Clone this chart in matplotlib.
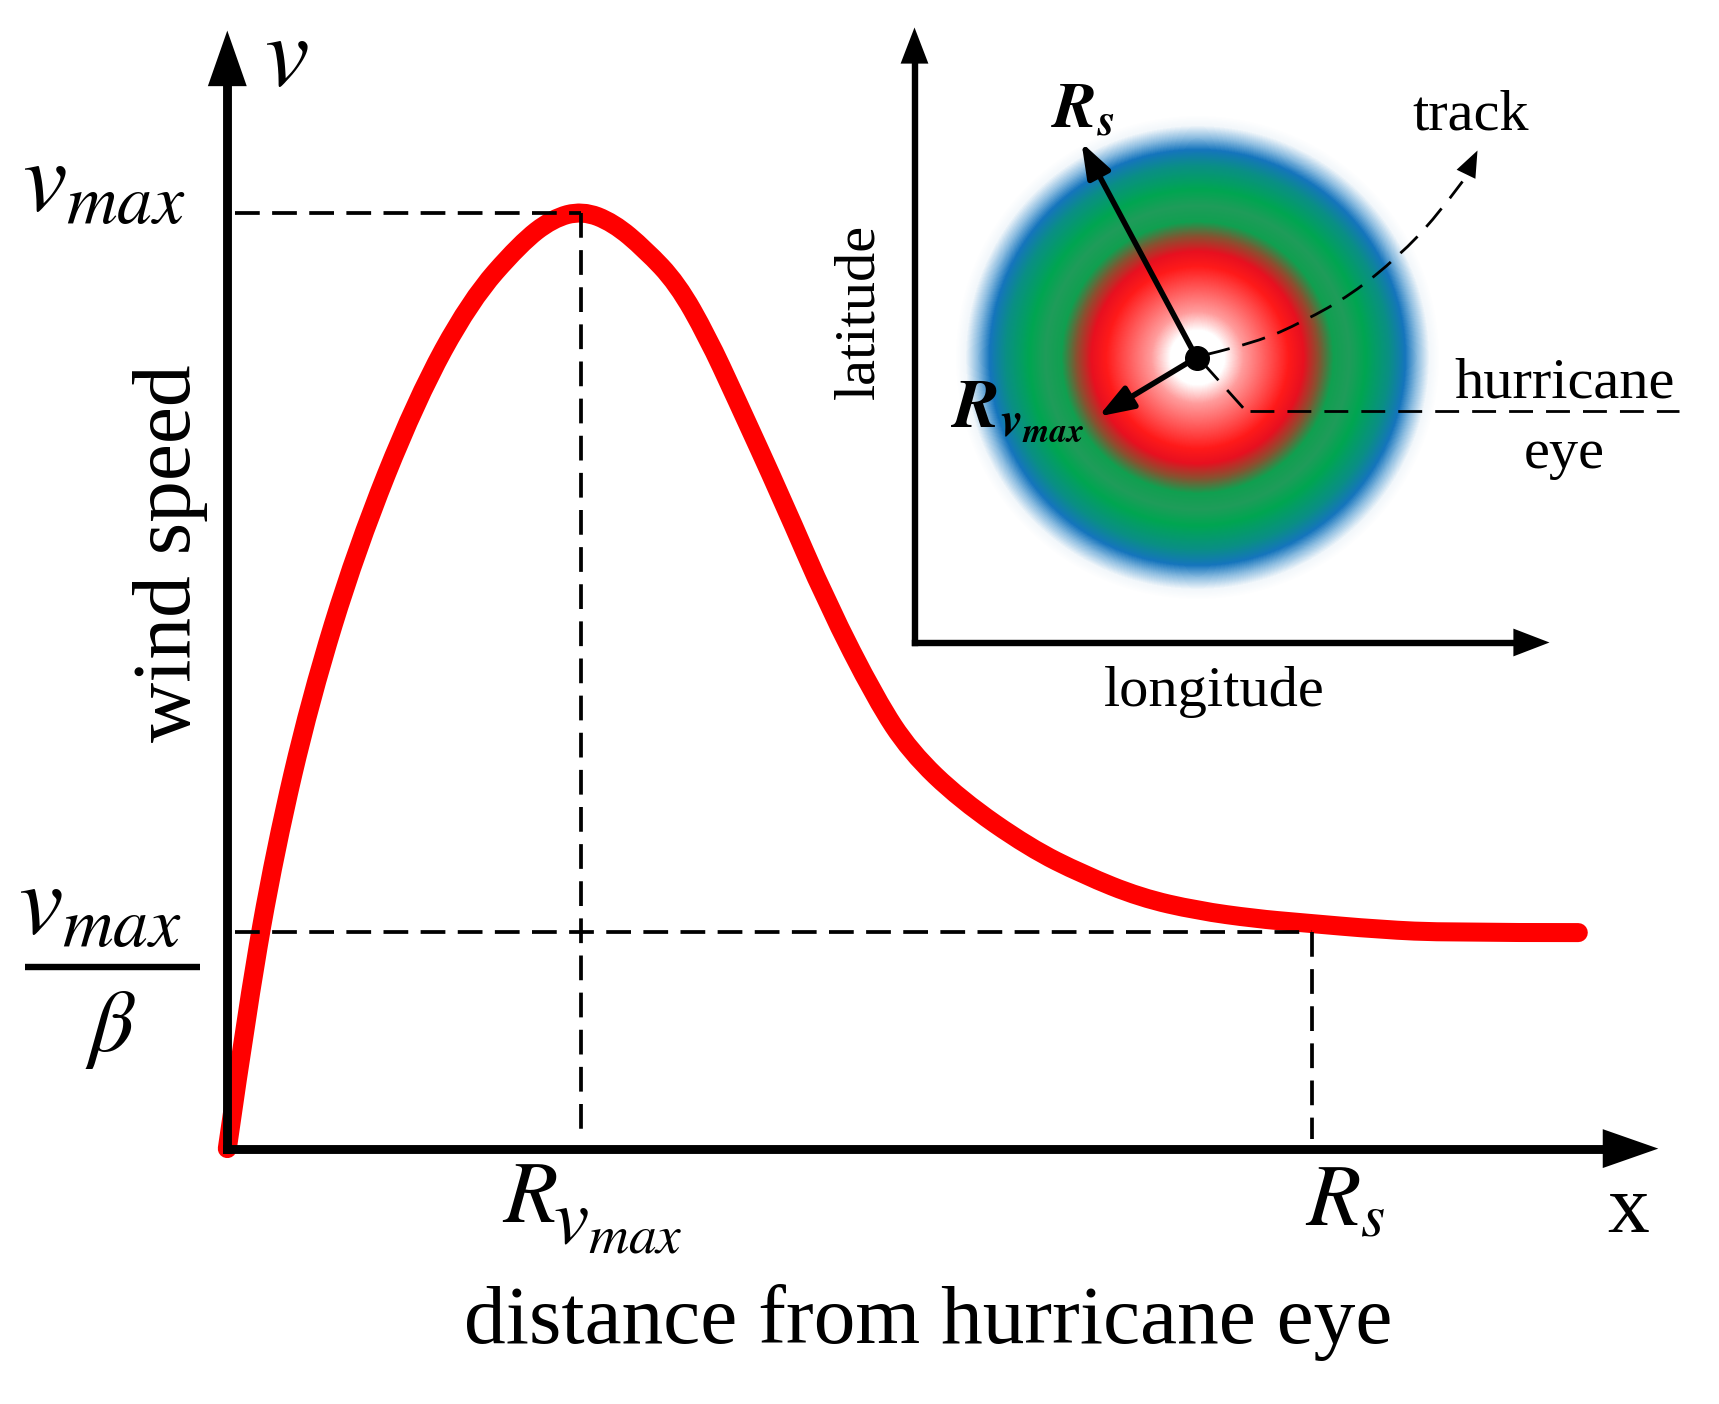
import numpy as np
import matplotlib as mpl
mpl.use("Agg")
import matplotlib.pyplot as plt
from matplotlib.colors import LinearSegmentedColormap
from matplotlib.patches import PathPatch
from matplotlib.path import Path

plt.rcParams["font.family"] = ["Liberation Serif", "DejaVu Serif"]
plt.rcParams["mathtext.fontset"] = "stix"

# wind profile
dist = [0, 21, 48, 83, 129, 189, 243, 293, 325, 355, 386, 418, 450, 480, 508, 555, 600,
        649, 683, 733, 802, 856, 913, 970, 1028, 1073, 1154, 1220, 1351]
speed = [0, 147, 299, 449, 599, 749, 848, 905, 930, 938, 926, 899, 865, 812, 752, 649,
         545, 449, 397, 349, 301, 274, 251, 238, 230, 226, 219, 216, 216]

r_vmax = 353.5
r_s = 1085
v_max = 935.7
v_s = 216.4

# hurricane sketch, pixels from the inset origin
eye = (282, 285)
rs_tip = (167, 500)
rv_tip = (184, 226)
track_x = [292, 342, 389, 437, 484, 522, 548, 563]
track_y = [288, 300, 321, 348, 386, 426, 461, 492]
leader_x = [288, 331]
leader_y = [280, 232]

ring_radius = [0, 27, 46, 91, 106, 121, 136, 152, 168, 192, 208, 220, 232, 242]
ring_color = ["#ffffff", "#ffffff", "#ff9c9c", "#ff1a1a", "#e81020", "#8a5030", "#10a050",
              "#1f9c5a", "#00a651", "#0a8f85", "#1575bd", "#8bbce0", "#f2f7fb", "#ffffff"]

W, H = 1719, 1404

fig = plt.figure(figsize=(W / 100, H / 100), dpi=100)


def place(x0, y0, w, h):
    return fig.add_axes([x0 / W, 1 - y0 / H, w / W, h / H])


def axis_style(ax, x_tip, y_tip, head, lw):
    ax.set_xlim(0, x_tip)
    ax.set_ylim(0, y_tip)
    ax.set_xticks([])
    ax.set_yticks([])
    ax.patch.set_alpha(0)
    ax.spines["top"].set_visible(False)
    ax.spines["right"].set_visible(False)
    ax.spines["left"].set_linewidth(lw)
    ax.spines["bottom"].set_linewidth(lw)
    ax.spines["left"].set_bounds(0, y_tip - head[0] / 0.8)
    ax.spines["bottom"].set_bounds(0, x_tip - head[0] / 0.8)
    style = "-|>,head_length=%g,head_width=%g" % (head[0], head[1])
    for tip in [(x_tip, 0), (0, y_tip)]:
        ax.annotate("", xy=tip, xytext=(0, 0), zorder=5, annotation_clip=False,
                    arrowprops=dict(arrowstyle=style, color="black", lw=0,
                                    shrinkA=0, shrinkB=0, mutation_scale=1))


def smooth_path(xs, ys):
    # read points become the control points of quadratic pieces
    pts = list(zip(xs, ys))
    verts = [pts[0]]
    codes = [Path.MOVETO]
    for i in range(1, len(pts) - 1):
        end = pts[i + 1] if i == len(pts) - 2 else ((pts[i][0] + pts[i + 1][0]) / 2,
                                                    (pts[i][1] + pts[i + 1][1]) / 2)
        verts += [pts[i], end]
        codes += [Path.CURVE3, Path.CURVE3]
    return Path(verts, codes)


# main chart
ax = place(227.3, 1148.6, 1431, 1118)
axis_style(ax, 1431, 1118, (40, 14), 6.4)
ax.add_patch(PathPatch(smooth_path(dist, speed), fc="none", ec="#ff0000", lw=13.7,
                       capstyle="round", joinstyle="round", clip_on=False, zorder=2))

dash = dict(color="black", lw=2.7, dashes=(6.6, 3.3), dash_capstyle="butt", zorder=3)
ax.plot([8, r_vmax], [v_max, v_max], **dash)
ax.plot([r_vmax, r_vmax], [v_max, 10], **dash)
ax.plot([8, r_s], [v_s, v_s], **dash)
ax.plot([r_s, r_s], [v_s, 10], **dash)
ax.plot([-202, -27], [182, 182], color="black", lw=4.6, clip_on=False, solid_capstyle="butt")

ctr = dict(ha="center", va="center", color="black", clip_on=False)
ax.text(59, 1088, r"$v$", fontsize=72, **ctr)
ax.text(-124, 962, r"$v_{max}$", fontsize=72, **ctr)
ax.text(-128, 239, r"$v_{max}$", fontsize=72, **ctr)
ax.text(-117, 119, r"$\beta$", fontsize=64, **ctr)
ax.text(302, -52, r"$R$", fontsize=64, **ctr)
ax.text(391, -76, r"$v_{max}$", fontsize=57, **ctr)
ax.text(1118, -55, r"$R_s$", fontsize=64, **ctr)
ax.text(1401, -64, "x", fontsize=60, **ctr)
ax.text(701, -174, "distance from hurricane eye", fontsize=60, **ctr)
ax.text(-57, 595, "wind speed", fontsize=60, rotation=90, **ctr)

# inset sketch
ins = place(914.5, 642.5, 635, 615)
axis_style(ins, 635, 615, (26, 10), 4.6)

grid = np.arange(-247, 248, 1.0)
gx, gy = np.meshgrid(grid, grid)
radius = np.hypot(gx, gy)
stops = [r / 247 for r in ring_radius] + [1.0]
colors = ring_color + ["#ffffff"]
cmap = LinearSegmentedColormap.from_list("rings", list(zip(stops, colors)), N=512)
ins.imshow(radius, cmap=cmap, vmin=0, vmax=247, interpolation="bilinear",
           extent=(eye[0] - 247, eye[0] + 247, eye[1] - 247, eye[1] + 247),
           aspect="auto", zorder=1)
ins.set_xlim(0, 635)
ins.set_ylim(0, 615)

thin = dict(color="black", lw=2.0, dashes=(8.6, 4.7), dash_capstyle="butt", clip_on=False, zorder=3)
ins.add_patch(PathPatch(smooth_path(track_x[:-1], track_y[:-1]), fc="none", ec="black", lw=2.0,
                        linestyle=(0, (8.6, 4.7)), capstyle="butt", clip_on=False, zorder=3))
ins.plot(leader_x, leader_y, **thin)
ins.plot([leader_x[1] + 4, 764], [leader_y[1], leader_y[1]], **thin)
ins.annotate("", xy=(track_x[-1], track_y[-1]), xytext=(track_x[-2], track_y[-2]), zorder=3,
             arrowprops=dict(arrowstyle="-|>,head_length=19,head_width=7.5", color="black",
                             lw=0, shrinkA=0, shrinkB=0, mutation_scale=1))
for tip in [rs_tip, rv_tip]:
    ins.annotate("", xy=tip, xytext=eye, zorder=4,
                 arrowprops=dict(arrowstyle="-|>,head_length=21,head_width=7.5", color="black",
                                 lw=4, shrinkA=0, shrinkB=0, mutation_scale=1))
ins.plot([eye[0]], [eye[1]], marker="o", ms=17, color="black", zorder=5)

ins.text(-55, 331, "latitude", fontsize=42, rotation=90, **ctr)
ins.text(300, -49, "longitude", fontsize=42, **ctr)
ins.text(556, 527, "track", fontsize=42, **ctr)
ins.text(650, 259, "hurricane", fontsize=42, **ctr)
ins.text(650, 189, "eye", fontsize=42, **ctr)
ins.text(168, 530, r"$\mathbfit{R}_{\mathbfit{s}}$", fontsize=47, **ctr)
ins.text(103, 231, r"$\mathbfit{R}_{\mathbfit{v}_{\mathbfit{max}}}$", fontsize=50, **ctr)

plt.savefig("out.png", dpi=100)
